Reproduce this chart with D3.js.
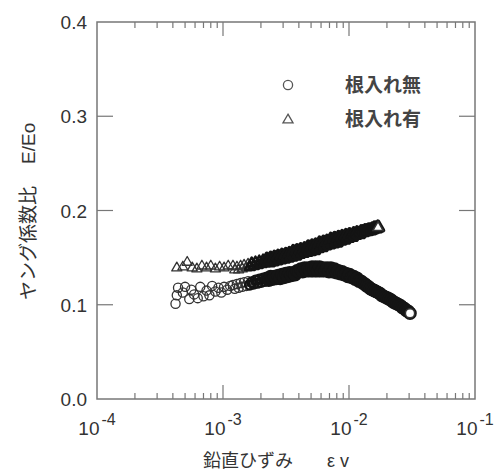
<!DOCTYPE html>
<html>
<head>
<meta charset="utf-8">
<script src="https://cdnjs.cloudflare.com/ajax/libs/d3/7.8.5/d3.min.js"></script>
<style>
body { margin: 0; background: #fff; }
text { font-family: "Liberation Sans", Arial, sans-serif; fill: #333; }
.jp { font-family: "Noto Sans CJK JP", sans-serif; }
</style>
</head>
<body>
<svg width="498" height="472"></svg>
<script>
var svg = d3.select("svg");

var seriesNames = ["根入れ無", "根入れ有"];
var yTicks = [0, 0.1, 0.2, 0.3, 0.4];

// small strains, where the single markers can still be told apart
var strainSparseA = [4.2e-4, 4.3e-4, 4.4e-4, 4.8e-4, 5.0e-4, 5.4e-4, 5.6e-4, 5.9e-4, 6.3e-4, 6.6e-4,
    7.0e-4, 7.4e-4, 7.8e-4, 8.2e-4, 8.7e-4, 9.2e-4, 9.7e-4, 1.02e-3, 1.08e-3, 1.14e-3];
var ratioSparseA = [0.101, 0.110, 0.118, 0.113, 0.119, 0.106, 0.116, 0.111, 0.107, 0.119,
    0.109, 0.115, 0.110, 0.120, 0.114, 0.118, 0.113, 0.119, 0.116, 0.120];
var strainSparseB = [4.3e-4, 4.8e-4, 5.2e-4, 5.7e-4, 6.2e-4, 6.8e-4, 7.4e-4, 8.0e-4, 8.7e-4, 9.4e-4,
    1.02e-3, 1.10e-3];
var ratioSparseB = [0.139, 0.140, 0.145, 0.139, 0.138, 0.141, 0.139, 0.141, 0.138, 0.140,
    0.139, 0.141];

// dense part: both tests read at the same strain steps
var strainDense = [1.20e-3, 1.24e-3, 1.29e-3, 1.33e-3, 1.38e-3, 1.42e-3, 1.47e-3, 1.53e-3, 1.58e-3, 1.63e-3,
    1.69e-3, 1.75e-3, 1.81e-3, 1.88e-3, 1.94e-3, 2.01e-3, 2.08e-3, 2.15e-3, 2.23e-3, 2.31e-3,
    2.39e-3, 2.47e-3, 2.56e-3, 2.65e-3, 2.74e-3, 2.84e-3, 2.94e-3, 3.04e-3, 3.15e-3, 3.26e-3,
    3.37e-3, 3.49e-3, 3.61e-3, 3.74e-3, 3.87e-3, 4.00e-3, 4.14e-3, 4.29e-3, 4.44e-3, 4.59e-3,
    4.75e-3, 4.92e-3, 5.09e-3, 5.27e-3, 5.45e-3, 5.64e-3, 5.84e-3, 6.05e-3, 6.26e-3, 6.48e-3,
    6.70e-3, 6.94e-3, 7.18e-3, 7.43e-3, 7.69e-3, 7.96e-3, 8.24e-3, 8.53e-3, 8.83e-3, 9.14e-3,
    9.46e-3, 9.79e-3, 1.01e-2, 1.05e-2, 1.09e-2, 1.12e-2, 1.16e-2, 1.20e-2, 1.25e-2, 1.29e-2,
    1.34e-2, 1.38e-2, 1.43e-2, 1.48e-2, 1.53e-2, 1.59e-2, 1.64e-2, 1.70e-2, 1.76e-2, 1.82e-2,
    1.88e-2, 1.95e-2, 2.02e-2, 2.09e-2, 2.16e-2, 2.24e-2, 2.32e-2, 2.40e-2, 2.48e-2, 2.57e-2,
    2.66e-2, 2.75e-2, 2.85e-2, 2.95e-2, 3.05e-2];
var ratioDenseA = [0.121, 0.117, 0.122, 0.118, 0.123, 0.119, 0.124, 0.120, 0.125, 0.121,
    0.124, 0.122, 0.126, 0.123, 0.127, 0.124, 0.128, 0.125, 0.128, 0.126,
    0.130, 0.127, 0.130, 0.128, 0.131, 0.128, 0.132, 0.129, 0.133, 0.130,
    0.134, 0.131, 0.134, 0.132, 0.136, 0.135, 0.138, 0.135, 0.139, 0.136,
    0.139, 0.136, 0.140, 0.136, 0.140, 0.136, 0.140, 0.136, 0.139, 0.136,
    0.139, 0.135, 0.139, 0.135, 0.138, 0.134, 0.136, 0.133, 0.135, 0.132,
    0.133, 0.130, 0.132, 0.129, 0.130, 0.127, 0.128, 0.125, 0.125, 0.123,
    0.122, 0.120, 0.119, 0.117, 0.116, 0.115, 0.114, 0.113, 0.112, 0.110,
    0.109, 0.108, 0.107, 0.106, 0.105, 0.103, 0.102, 0.101, 0.100, 0.099,
    0.097, 0.096, 0.094, 0.093, 0.091];
var ratioDenseB = [0.141, 0.137, 0.140, 0.137, 0.141, 0.138, 0.142, 0.139, 0.143, 0.140,
    0.144, 0.141, 0.145, 0.142, 0.146, 0.143, 0.147, 0.144, 0.148, 0.145,
    0.149, 0.146, 0.150, 0.147, 0.151, 0.148, 0.152, 0.149, 0.153, 0.150,
    0.154, 0.151, 0.156, 0.152, 0.157, 0.154, 0.158, 0.155, 0.159, 0.156,
    0.161, 0.157, 0.162, 0.158, 0.163, 0.160, 0.165, 0.161, 0.166, 0.163,
    0.167, 0.164, 0.169, 0.165, 0.170, 0.166, 0.171, 0.168, 0.172, 0.169,
    0.173, 0.171, 0.174, 0.172, 0.175, 0.174, 0.176, 0.175, 0.177, 0.177,
    0.178, 0.178, 0.179, 0.179, 0.180, 0.181, 0.181, 0.182];

function pairs(xs, ys) {
    return ys.map(function(v, i) { return [xs[i], v]; });
}
var dataA = pairs(strainSparseA, ratioSparseA).concat(pairs(strainDense, ratioDenseA));
var dataB = pairs(strainSparseB, ratioSparseB).concat(pairs(strainDense, ratioDenseB));

// plot box (note: "top" is taken by window.top, so prefix them)
var pLeft = 97, pRight = 475, pTop = 22, pBottom = 399;
var x = d3.scaleLog().domain([1e-4, 1e-1]).range([pLeft, pRight]);
var y = d3.scaleLinear().domain([0, 0.4]).range([pBottom, pTop]);

var axisColor = "#777";
var markColor = "#333";
var denseColor = "#141414";

// the printed markers run together where the readings get dense,
// a heavier outline there gives the same solid band
function markWidth(d) {
    if (d[0] < 1.6e-3) return 1.3;
    if (d[0] < 2.2e-3) return 2.4;
    return 4.4;
}
function markStroke(d) { return d[0] < 1.6e-3 ? markColor : denseColor; }

// frame
svg.append("rect")
    .attr("x", pLeft).attr("y", pTop)
    .attr("width", pRight - pLeft).attr("height", pBottom - pTop)
    .attr("fill", "none")
    .attr("stroke", axisColor)
    .attr("stroke-width", 1.5);

// log ticks, inward, on bottom and top
function isMajor(d) { return Math.abs(Math.log10(d) - Math.round(Math.log10(d))) < 1e-6; }
var xt = x.ticks().filter(function(d) { return d > 1e-4 && d < 1e-1; });
[pBottom, pTop].forEach(function(edge) {
    var dir = edge == pBottom ? -1 : 1;
    svg.append("g").selectAll("line").data(xt).join("line")
        .attr("x1", function(d) { return x(d); })
        .attr("x2", function(d) { return x(d); })
        .attr("y1", edge)
        .attr("y2", function(d) { return edge + dir * (isMajor(d) ? 14 : 6); })
        .attr("stroke", axisColor)
        .attr("stroke-width", 1.2);
});

// x labels 10^n
var xl = svg.append("g").selectAll("text").data(x.ticks().filter(isMajor)).join("text")
    .attr("x", function(d) { return x(d); })
    .attr("y", 435)
    .attr("text-anchor", "middle");
xl.append("tspan").attr("font-size", 19).text("10");
xl.append("tspan").attr("font-size", 16).attr("dx", 2).attr("dy", -10)
    .text(function(d) { return Math.round(Math.log10(d)); });

// y ticks, inward, on left and right
var yt = yTicks.filter(function(d) { return d > 0 && d < 0.4; });
[pLeft, pRight].forEach(function(edge) {
    var dir = edge == pLeft ? 1 : -1;
    svg.append("g").selectAll("line").data(yt).join("line")
        .attr("x1", edge)
        .attr("x2", edge + dir * 16)
        .attr("y1", function(d) { return y(d); })
        .attr("y2", function(d) { return y(d); })
        .attr("stroke", axisColor)
        .attr("stroke-width", 1.2);
});
svg.append("g").selectAll("text").data(yTicks).join("text")
    .attr("x", 87)
    .attr("y", function(d) { return y(d) + 7; })
    .attr("text-anchor", "end")
    .attr("font-size", 19)
    .text(d3.format(".1f"));

// axis titles
var xtitle = svg.append("text").attr("x", 203).attr("y", 467);
xtitle.append("tspan").attr("class", "jp").attr("font-size", 18).text("鉛直ひずみ");
xtitle.append("tspan").attr("font-size", 18).attr("dx", 34).text("ε v");

var ytitle = svg.append("text").attr("transform", "translate(35,300) rotate(-90)");
ytitle.append("tspan").attr("class", "jp").attr("font-size", 19).text("ヤング係数比");
ytitle.append("tspan").attr("font-size", 19).attr("dx", 22).text("E/Eo");

// markers
var tri = d3.symbol().type(d3.symbolTriangle).size(44);
var g = svg.append("g");
g.selectAll("circle").data(dataA).join("circle")
    .attr("cx", function(d) { return x(d[0]); })
    .attr("cy", function(d) { return y(d[1]); })
    .attr("r", 4.6)
    .attr("fill", "none")
    .attr("stroke", markStroke)
    .attr("stroke-width", markWidth);
g.selectAll("path.tri").data(dataB).join("path")
    .attr("class", "tri")
    .attr("d", tri)
    .attr("transform", function(d) { return "translate(" + x(d[0]) + "," + y(d[1]) + ")"; })
    .attr("fill", "none")
    .attr("stroke", markStroke)
    .attr("stroke-linejoin", "round")
    .attr("stroke-width", markWidth);

// the last reading of each run stays readable as an open marker
var lastA = dataA[dataA.length - 1], lastB = dataB[dataB.length - 1];
g.append("circle")
    .attr("cx", x(lastA[0])).attr("cy", y(lastA[1])).attr("r", 4.6)
    .attr("fill", "#fff").attr("stroke", markColor).attr("stroke-width", 1.5);
g.append("path").attr("d", tri)
    .attr("transform", "translate(" + x(lastB[0]) + "," + y(lastB[1]) + ")")
    .attr("fill", "#fff").attr("stroke", markColor).attr("stroke-width", 1.5);

// legend
var lg = svg.append("g");
lg.append("circle").attr("cx", 288).attr("cy", 85).attr("r", 4.6)
    .attr("fill", "none").attr("stroke", "#555").attr("stroke-width", 1.3);
lg.append("path").attr("d", tri).attr("transform", "translate(288,120)")
    .attr("fill", "none").attr("stroke", "#555").attr("stroke-width", 1.3);
lg.selectAll("text").data(seriesNames).join("text")
    .attr("class", "jp")
    .attr("x", 345)
    .attr("y", function(d, i) { return 92 + i * 34; })
    .attr("font-size", 19)
    .attr("font-weight", "bold")
    .style("fill", "#444")
    .text(function(d) { return d; });
</script>
</body>
</html>
